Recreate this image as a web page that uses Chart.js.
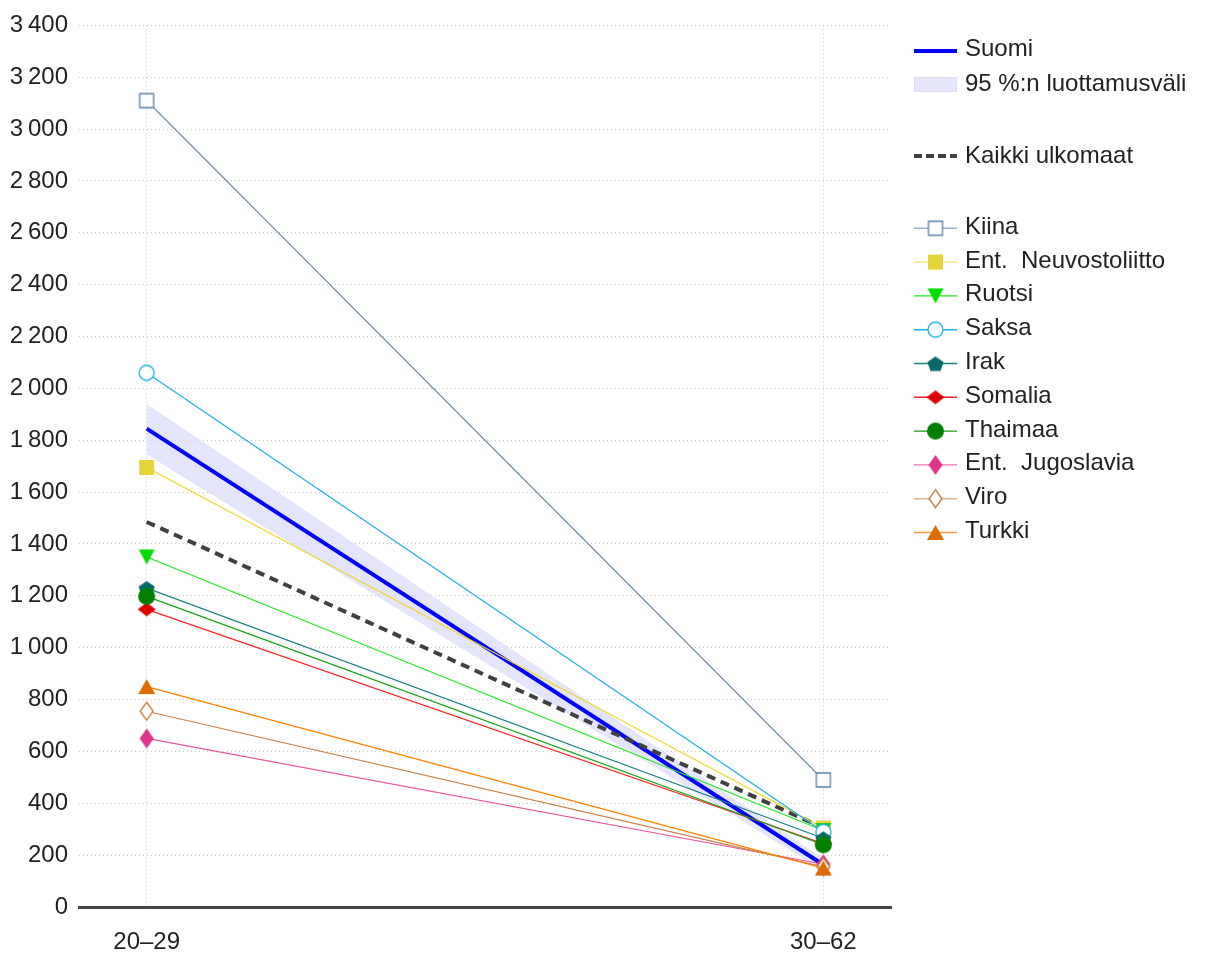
<html>
<head>
<meta charset="utf-8">
<style>
  body { margin: 0; background: #fff; }
  #wrap { position: relative; width: 1212px; height: 954px; }
  #legendSamples { position: absolute; left: 0; top: 0; }
  .lg { position: absolute; left: 965px; font: 24px "Liberation Sans", Arial, sans-serif; color: #222; line-height: 34px; white-space: pre; }
</style>
<script src="https://cdn.jsdelivr.net/npm/chart.js@4"></script>
<script>
// age groups on the x axis
var ageGroups = ['20–29', '30–62'];

// Suomi and its 95 % interval
var suomi = [1845, 163];
var suomiLow = [1745, 140];
var suomiHigh = [1940, 186];
var kaikkiUlkomaat = [1485, 305];

// countries of origin
var kiina = [3110, 490];
var entNeuvostoliitto = [1695, 305];
var ruotsi = [1350, 295];
var saksa = [2060, 290];
var irak = [1230, 265];
var somalia = [1148, 245];
var thaimaa = [1198, 240];
var entJugoslavia = [650, 165];
var viro = [755, 155];
var turkki = [850, 150];

var yTicks = [0, 200, 400, 600, 800, 1000, 1200, 1400, 1600, 1800, 2000, 2200, 2400, 2600, 2800, 3000, 3200, 3400];

var FONT = '"Liberation Sans", Arial, sans-serif';

function xy(arr) {
    return arr.map(function (v, i) { return { x: i, y: v }; });
}

// small canvases used as point styles
function marker(shape, w, h, fill, stroke) {
    var c = document.createElement('canvas');
    c.width = w + 4;
    c.height = h + 4;
    var g = c.getContext('2d');
    var cx = c.width / 2, cy = c.height / 2;
    g.beginPath();
    if (shape == 'square') {
        g.rect(cx - w / 2, cy - h / 2, w, h);
    } else if (shape == 'circle') {
        g.ellipse(cx, cy, w / 2, h / 2, 0, 0, 2 * Math.PI);
    } else if (shape == 'diamond') {
        g.moveTo(cx, cy - h / 2); g.lineTo(cx + w / 2, cy); g.lineTo(cx, cy + h / 2); g.lineTo(cx - w / 2, cy);
        g.closePath();
    } else if (shape == 'triUp') {
        g.moveTo(cx, cy - h / 2); g.lineTo(cx + w / 2, cy + h / 2); g.lineTo(cx - w / 2, cy + h / 2);
        g.closePath();
    } else if (shape == 'triDown') {
        g.moveTo(cx - w / 2, cy - h / 2); g.lineTo(cx + w / 2, cy - h / 2); g.lineTo(cx, cy + h / 2);
        g.closePath();
    } else if (shape == 'pentagon') {
        for (var k = 0; k < 5; k++) {
            var a = -Math.PI / 2 + k * 2 * Math.PI / 5;
            var px = cx + w / 2 * Math.cos(a), py = cy + 1 + h / 2 * Math.sin(a);
            if (k == 0) g.moveTo(px, py); else g.lineTo(px, py);
        }
        g.closePath();
    }
    if (fill) { g.fillStyle = fill; g.fill(); }
    if (stroke) { g.lineWidth = 1.3; g.strokeStyle = stroke; g.stroke(); }
    return c;
}

var countries = [
    { label: 'Kiina', data: kiina, line: '#5f80a8', legendLine: '#98b0cc', m: marker('square', 14, 14, '#fff', '#5b7faa') },
    { label: 'Ent.  Neuvostoliitto', data: entNeuvostoliitto, line: '#f2d624', legendLine: '#f2e27a', m: marker('square', 15, 15, '#e3d43a', null) },
    { label: 'Ruotsi', data: ruotsi, line: '#22e822', legendLine: '#22e822', m: marker('triDown', 16, 15, '#00dd00', null) },
    { label: 'Saksa', data: saksa, line: '#1cb0e6', legendLine: '#1cb0e6', m: marker('circle', 15, 15, '#fff', '#1cb0e6') },
    { label: 'Irak', data: irak, line: '#1a7f85', legendLine: '#1a7f85', m: marker('pentagon', 17, 16, '#066a6a', null) },
    { label: 'Somalia', data: somalia, line: '#ff2222', legendLine: '#ff2222', m: marker('diamond', 18, 14, '#dd0000', null) },
    { label: 'Thaimaa', data: thaimaa, line: '#13a013', legendLine: '#13a013', m: marker('circle', 17, 17, '#008000', null) },
    { label: 'Ent.  Jugoslavia', data: entJugoslavia, line: '#e8559f', legendLine: '#e870b0', m: marker('diamond', 14, 20, '#dd3388', null) },
    { label: 'Viro', data: viro, line: '#c4844c', legendLine: '#d8b48a', m: marker('diamond', 13, 18, '#fff', '#c07838') },
    { label: 'Turkki', data: turkki, line: '#ff8000', legendLine: '#ff9a3a', m: marker('triUp', 17, 15, '#dd6b00', null) }
];

function buildDatasets() {
    var ds = [];
    for (var i = 0; i < countries.length; i++) {
        var c = countries[i];
        ds.push({
            label: c.label,
            data: xy(c.data),
            borderColor: c.line,
            borderWidth: 1.2,
            pointStyle: c.m,
            order: countries.length - i
        });
    }
    ds.push({
        label: 'Kaikki ulkomaat', data: xy(kaikkiUlkomaat),
        borderColor: '#404040', borderWidth: 4, borderDash: [9, 6],
        pointRadius: 0, order: 20
    });
    ds.push({
        label: 'Suomi', data: xy(suomi),
        borderColor: '#0000ff', borderWidth: 4,
        pointRadius: 0, order: 21
    });
    ds.push({
        label: 'ci-high', data: xy(suomiHigh),
        borderWidth: 0, borderColor: 'rgba(0,0,0,0)',
        pointRadius: 0, fill: false, order: 30
    });
    ds.push({
        label: '95 %:n luottamusväli', data: xy(suomiLow),
        borderWidth: 0, borderColor: 'rgba(0,0,0,0)',
        backgroundColor: 'rgba(214,214,248,0.65)',
        pointRadius: 0, fill: '-1', order: 31
    });
    return ds;
}

function drawLegend() {
    var cv = document.getElementById('legendSamples');
    var g = cv.getContext('2d');
    var x0 = 914, x1 = 957, xm = 935.5;

    g.lineWidth = 4;
    g.strokeStyle = '#0000ff';
    g.beginPath(); g.moveTo(x0, 51); g.lineTo(x1, 51); g.stroke();

    g.fillStyle = '#e6e6fa';
    g.fillRect(x0, 77, x1 - x0, 15);
    g.strokeStyle = '#dcdcf6';
    g.lineWidth = 1;
    g.strokeRect(x0 + 0.5, 77.5, x1 - x0 - 1, 14);

    g.lineWidth = 4;
    g.strokeStyle = '#404040';
    g.setLineDash([8, 4]);
    g.beginPath(); g.moveTo(x0, 156); g.lineTo(x1, 156); g.stroke();
    g.setLineDash([]);

    var rows = [
        { t: 'Suomi', y: 47.8 },
        { t: '95 %:n luottamusväli', y: 82.5 },
        { t: 'Kaikki ulkomaat', y: 155 }
    ];
    for (var i = 0; i < countries.length; i++) {
        var cy = 225.5 + i * 33.8;
        var my = cy + 2.8;
        g.lineWidth = 1.4;
        g.strokeStyle = countries[i].legendLine;
        g.beginPath(); g.moveTo(x0, my); g.lineTo(x1, my); g.stroke();
        var m = countries[i].m;
        g.drawImage(m, xm - m.width / 2, my - m.height / 2);
        rows.push({ t: countries[i].label, y: cy });
    }

    var wrap = document.getElementById('wrap');
    for (var r of rows) {
        var d = document.createElement('div');
        d.className = 'lg';
        d.style.top = (r.y - 16.7) + 'px';
        d.textContent = r.t;
        wrap.appendChild(d);
    }
}

function load() {
    var ctx = document.getElementById('myChart').getContext('2d');
    new Chart(ctx, {
        type: 'line',
        data: { datasets: buildDatasets() },
        options: {
            responsive: false,
            animation: false,
            devicePixelRatio: 1,
            layout: { padding: { top: 19, right: 321, bottom: 0, left: 0 } },
            plugins: { legend: { display: false }, tooltip: { enabled: false } },
            scales: {
                x: {
                    type: 'linear',
                    min: -0.1,
                    max: 1.1,
                    afterBuildTicks: function (s) { s.ticks = [{ value: 0 }, { value: 1 }]; },
                    afterFit: function (s) { s.height = 47; },
                    grid: { color: '#c8c8c8', lineWidth: 1, drawTicks: false },
                    border: { display: true, color: '#444', width: 3, dash: [1, 3] },
                    ticks: {
                        padding: 21,
                        color: '#222',
                        font: { family: FONT, size: 24 },
                        callback: function (v) { return ageGroups[v]; }
                    }
                },
                y: {
                    min: 0,
                    max: 3400,
                    afterBuildTicks: function (s) { s.ticks = yTicks.map(function (v) { return { value: v }; }); },
                    afterFit: function (s) { s.width = 79; },
                    grid: { color: '#c8c8c8', lineWidth: 1, drawTicks: false },
                    border: { display: false, dash: [1, 3] },
                    ticks: {
                        padding: 11,
                        color: '#222',
                        font: { family: FONT, size: 24 },
                        callback: function (v) { return v >= 1000 ? Math.floor(v / 1000) + '\u2009' + String(v % 1000).padStart(3, '0') : String(v); }
                    }
                }
            }
        }
    });
    drawLegend();
}
</script>
</head>
<body>
<div id="wrap">
    <canvas id="myChart" width="1212" height="954"></canvas>
    <canvas id="legendSamples" width="1212" height="600"></canvas>
</div>
<script>load();</script>
</body>
</html>
